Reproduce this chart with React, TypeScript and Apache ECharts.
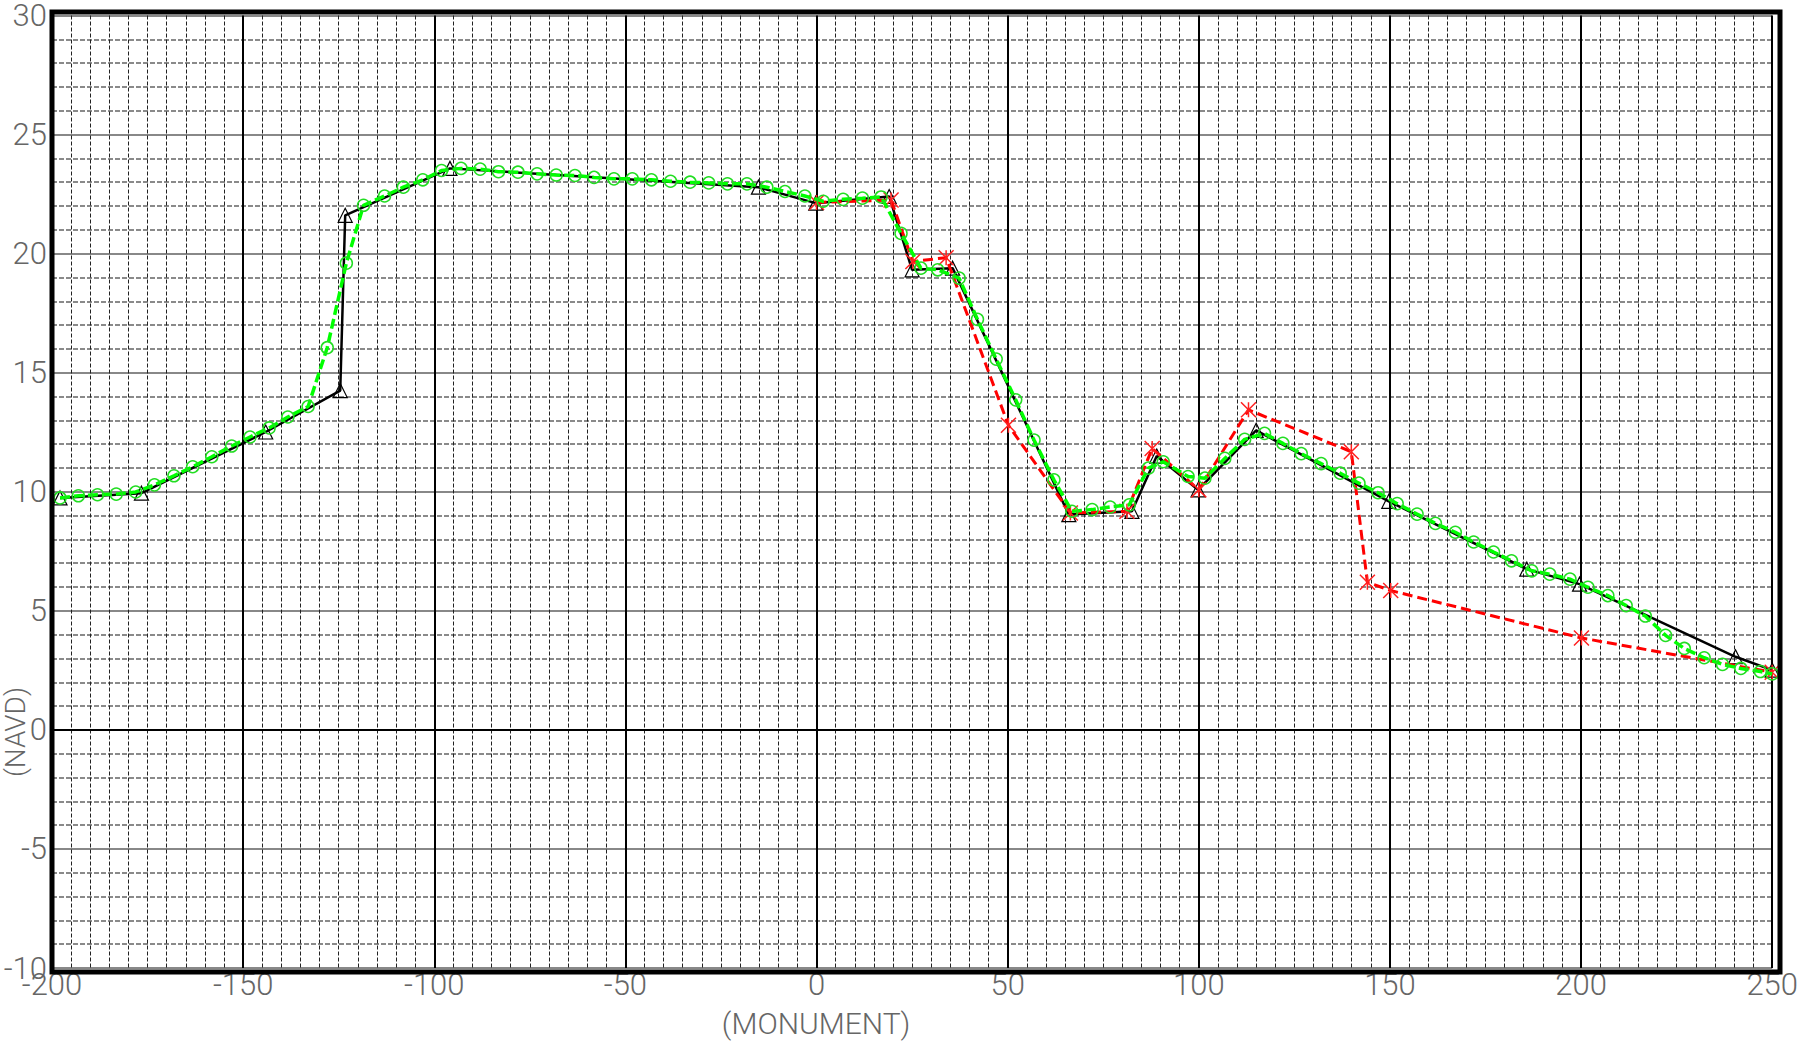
import React, { useEffect, useRef } from "react";
import * as echarts from "echarts";

// Surveyed profile (black, triangles)
const surveyX = [-197.9, -176.6, -144.1, -124.6, -123.3, -95.9, -15.2, -0.2, 19.0, 25.0, 35.6, 66.0, 82.5, 89.0, 99.8, 115.0, 149.7, 185.8, 199.6, 240.4, 250.0];
const surveyY = [9.74, 9.94, 12.51, 14.25, 21.61, 23.58, 22.79, 22.12, 22.4, 19.32, 19.39, 9.04, 9.18, 11.5, 10.08, 12.58, 9.6, 6.75, 6.12, 3.07, 2.51];

// Second profile (green dashed, circles)
const greenX = [-197.9, -193.1, -188.1, -183.2, -178.1, -173.2, -168.1, -163.2, -158.2, -153.0, -148.2, -143.2, -138.3, -133.0, -128.0, -123.0, -118.5, -113.0, -108.1, -103.0, -98.1, -93.0, -88.0, -83.2, -78.1, -73.1, -68.1, -63.2, -58.2, -53.0, -48.2, -43.2, -38.2, -33.1, -28.2, -23.3, -18.2, -13.0, -8.25, -3.05, 1.75, 6.95, 12.0, 16.9, 22.1, 27.3, 31.7, 37.3, 42.1, 47.0, 52.1, 56.9, 62.1, 66.8, 72.1, 76.8, 81.8, 86.8, 90.7, 97.2, 101.6, 106.8, 112.0, 117.2, 122.0, 126.8, 132.0, 137.0, 141.9, 146.9, 151.9, 157.1, 161.9, 167.1, 171.9, 177.1, 181.8, 187.1, 191.8, 197.1, 201.8, 207.0, 211.8, 216.8, 222.1, 227.0, 232.2, 237.0, 241.8, 246.9, 250.0];
const greenY = [9.74, 9.83, 9.875, 9.9, 9.99, 10.29, 10.67, 11.05, 11.47, 11.92, 12.3, 12.68, 13.14, 13.58, 16.05, 19.6, 22.03, 22.42, 22.79, 23.1, 23.49, 23.58, 23.55, 23.44, 23.42, 23.35, 23.3, 23.28, 23.2, 23.14, 23.14, 23.1, 23.04, 23.0, 22.97, 22.93, 22.93, 22.79, 22.61, 22.42, 22.2, 22.28, 22.33, 22.38, 20.85, 19.39, 19.32, 18.97, 17.24, 15.57, 13.86, 12.17, 10.5, 9.18, 9.25, 9.36, 9.45, 10.99, 11.26, 10.64, 10.57, 11.4, 12.2, 12.45, 12.03, 11.6, 11.18, 10.78, 10.36, 9.96, 9.5, 9.06, 8.67, 8.3, 7.89, 7.47, 7.1, 6.68, 6.54, 6.33, 5.99, 5.64, 5.22, 4.78, 3.97, 3.42, 3.03, 2.75, 2.58, 2.45, 2.35];

// Third profile (red dashed, crosses)
const redX = [0, 19.5, 25.2, 33.9, 50.2, 66.4, 81.2, 87.8, 100, 113, 139.9, 144.1, 150.2, 200.1, 250];
const redY = [22.15, 22.25, 19.67, 19.83, 12.79, 9.11, 9.18, 11.82, 10.08, 13.44, 11.68, 6.2, 5.85, 3.86, 2.42];

const xTicks = { min: -200, max: 250, interval: 50 };
const yTicks = { min: -10, max: 30, interval: 5 };

const FONT = "'Liberation Sans Narrow', 'Roboto', 'DejaVu Sans Condensed', sans-serif";
const TEXT_COLOR = "#666";

const pairs = (xs: number[], ys: number[]) => xs.map((x, i) => [x, ys[i]]);

export default function App() {
  const ref = useRef<HTMLDivElement>(null);
  useEffect(() => {
    if (!ref.current) return;
    const chart = echarts.init(ref.current, null, { renderer: "svg" });
    const gridLeft = 52, gridTop = 12, gridW = 1728, gridH = 960;
    chart.setOption({
      animation: false,
      backgroundColor: "#ffffff",
      grid: { left: gridLeft, top: gridTop, width: gridW, height: gridH, show: false },
      xAxis: {
        type: "value",
        min: xTicks.min,
        max: xTicks.max,
        interval: xTicks.interval,
        name: "(MONUMENT)",
        nameLocation: "middle",
        nameGap: 40,
        nameTextStyle: { fontFamily: FONT, fontSize: 30, fontWeight: 300, color: TEXT_COLOR, padding: [0, 192, 0, 0] },
        axisLine: { show: false, onZero: false },
        axisTick: { show: false },
        axisLabel: { fontFamily: FONT, fontSize: 31, fontWeight: 300, color: TEXT_COLOR, margin: 3, lineHeight: 26 },
        splitLine: { show: true, lineStyle: { color: "#000", width: 2, type: "solid" } },
        minorTick: { show: false, splitNumber: 10 },
        minorSplitLine: { show: true, lineStyle: { color: "#222", width: 1, type: [4, 2] } },
      },
      yAxis: {
        type: "value",
        min: yTicks.min,
        max: yTicks.max,
        interval: yTicks.interval,
        axisLine: { show: false },
        axisTick: { show: false },
        axisLabel: { fontFamily: FONT, fontSize: 31, fontWeight: 300, color: TEXT_COLOR, margin: 5, lineHeight: 22 },
        splitLine: { show: true, lineStyle: { color: "#888", width: 2, type: "solid" } },
        minorTick: { show: false, splitNumber: 5 },
        minorSplitLine: { show: true, lineStyle: { color: "#8a8a8a", width: 2, type: [5, 2] } },
      },
      graphic: [
        {
          type: "rect",
          z: 100,
          silent: true,
          shape: { x: gridLeft, y: gridTop, width: gridW, height: gridH },
          style: { fill: "none", stroke: "#000", lineWidth: 5 },
        },
        {
          type: "text",
          x: 15,
          y: 732,
          rotation: Math.PI / 2,
          style: {
            text: "(NAVD)",
            fontFamily: FONT,
            fontSize: 28,
            fontWeight: 300,
            fill: TEXT_COLOR,
            align: "center",
            verticalAlign: "middle",
          },
        },
      ],
      series: [
        {
          name: "Survey",
          type: "line",
          data: pairs(surveyX, surveyY),
          symbol: "triangle",
          symbolSize: 14,
          showSymbol: true,
          lineStyle: { color: "#000", width: 2.5 },
          itemStyle: { color: "rgba(0,0,0,0)", borderColor: "#000", borderWidth: 1.2 },
          z: 3,
          markLine: {
            silent: true,
            symbol: "none",
            label: { show: false },
            lineStyle: { color: "#000", width: 2, type: "solid" },
            data: [{ yAxis: 0 }],
          },
        },
        {
          name: "Red",
          type: "line",
          data: pairs(redX, redY),
          symbol: "path://M0,0L10,10M10,0L0,10M5,0L5,10",
          symbolSize: 15,
          showSymbol: true,
          lineStyle: { color: "#ff0000", width: 3, type: [10, 5] },
          itemStyle: { color: "rgba(0,0,0,0)", borderColor: "#ff2020", borderWidth: 1.5 },
          z: 4,
        },
        {
          name: "Green",
          type: "line",
          data: pairs(greenX, greenY),
          symbol: "circle",
          symbolSize: 12,
          showSymbol: true,
          showAllSymbol: true,
          lineStyle: { color: "#00ff00", width: 3.5, type: [10, 4] },
          itemStyle: { color: "rgba(0,0,0,0)", borderColor: "#22dd22", borderWidth: 1.5 },
          z: 5,
        },
      ],
    });
    return () => chart.dispose();
  }, []);
  return <div ref={ref} style={{ position: "fixed", left: 0, top: 0, width: 1801, height: 1043 }} />;
}
